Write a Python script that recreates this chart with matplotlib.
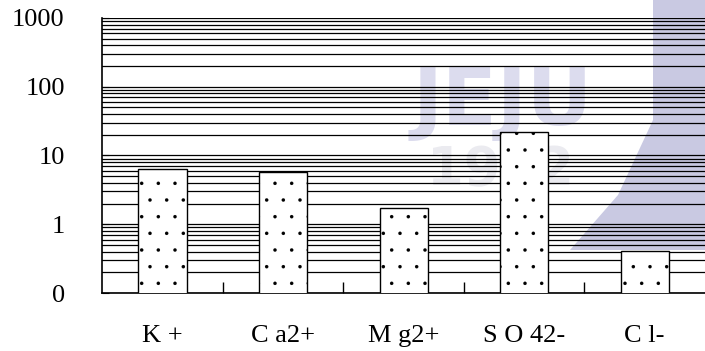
import matplotlib
matplotlib.use('Agg')
import matplotlib.pyplot as plt
import numpy as np
from matplotlib.patches import Polygon

plt.rcParams['font.family'] = 'Liberation Serif'
plt.rcParams['hatch.linewidth'] = 0.1

# Data (log scale)
ions = ['K+', 'Ca2+', 'Mg2+', 'SO42-', 'Cl-']
display_labels = ['K +', 'C a2+', 'M g2+', 'S O 42-', 'C l-']
values = [6.3, 5.7, 1.7, 22.0, 0.41]
ytick_vals = [0.1, 1, 10, 100, 1000]
ytick_labels = ['0', '1', '10', '100', '1000']

W, H = 705, 351
fig = plt.figure(figsize=(W / 100, H / 100), dpi=100)

# faint watermark behind the chart (figure pixel coords -> fraction)
band = Polygon([(653 / W, 1), (1, 1), (1, 1 - 250 / H), (570 / W, 1 - 250 / H),
                (618 / W, 1 - 195 / H), (653 / W, 1 - 120 / H)],
               closed=True, transform=fig.transFigure, facecolor='#c9c9e2',
               edgecolor='none', zorder=0)
fig.patches.append(band)
fig.text(503 / W, 1 - 103 / H, 'JEJU', fontsize=58, fontweight='bold',
         family='DejaVu Sans', color='#dcdcee', ha='center', va='center', zorder=0)
fig.text(500 / W, 1 - 170 / H, '1952', fontsize=38, fontweight='bold',
         family='DejaVu Sans', color='#ebebf0', ha='center', va='center', zorder=0)

ax = fig.add_axes([0.145, 0.165, 0.855, 0.784])
ax.set_zorder(2)
ax.patch.set_alpha(0)

x = np.arange(len(ions))
bars = ax.bar(x, values, width=0.4, color='white', edgecolor='black',
              linewidth=1.0, hatch='.', zorder=3)

ax.set_yscale('log')
ax.set_ylim(0.1, 1000)
ax.set_xlim(-0.5, len(ions) - 0.5)

ax.set_yticks(ytick_vals)
ax.set_yticklabels(ytick_labels, fontsize=19)
ax.yaxis.set_minor_formatter(matplotlib.ticker.NullFormatter())
ax.tick_params(axis='y', which='major', direction='in', length=5, pad=27)
ax.tick_params(axis='y', which='minor', length=0)

ax.grid(True, which='both', axis='y', color='black', linewidth=0.9, zorder=1)

ax.set_xticks(x)
ax.set_xticklabels(display_labels, fontsize=19)
ax.set_xticks(np.arange(0.5, len(ions) - 0.5, 1), minor=True)
ax.tick_params(axis='x', which='major', length=0, pad=23)
ax.tick_params(axis='x', which='minor', direction='in', length=8, width=1)

ax.spines['right'].set_visible(False)
ax.spines['top'].set_visible(False)
for s in ['left', 'bottom']:
    ax.spines[s].set_linewidth(1.2)

plt.savefig('out.png', dpi=100)
